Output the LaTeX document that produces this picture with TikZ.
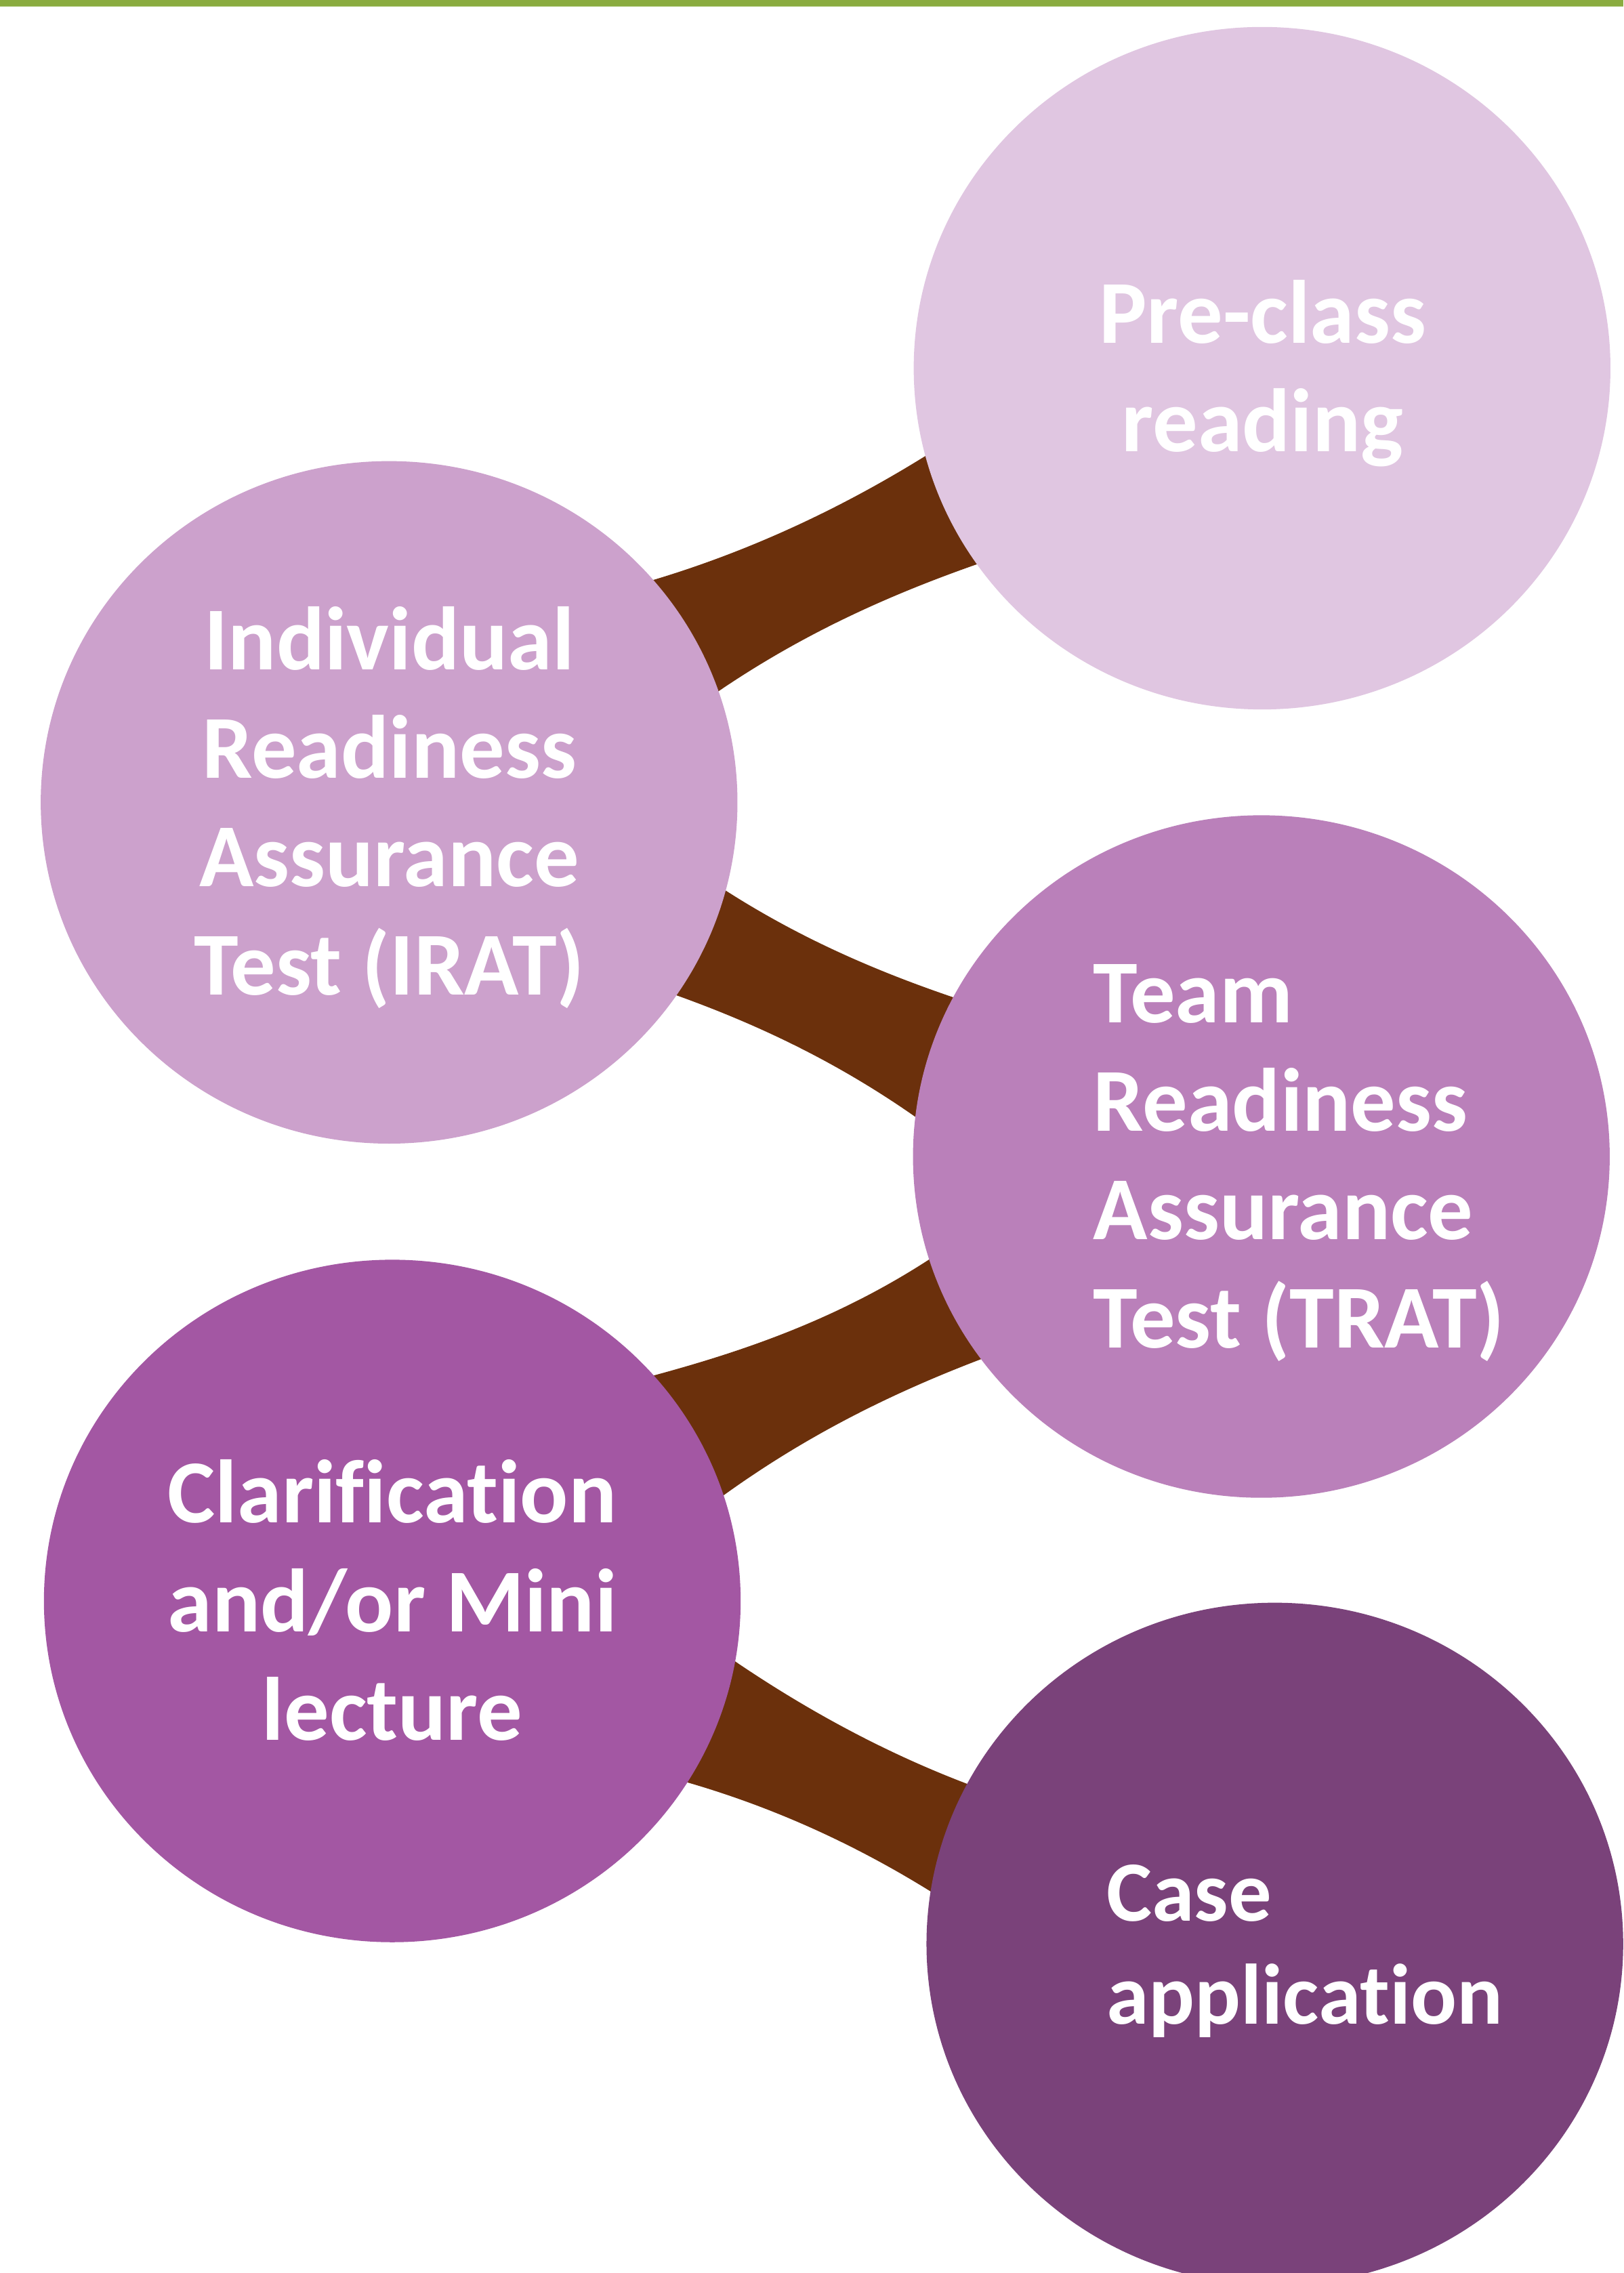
\documentclass[tikz,border=0pt]{standalone}
\usepackage{fontspec}
\setmainfont{Carlito}[Ligatures={NoCommon,NoRare,NoContextual}]
\usetikzlibrary{shapes.geometric}
\definecolor{cPre}{HTML}{E0C6E1}
\definecolor{cIrat}{HTML}{CCA1CC}
\definecolor{cTrat}{HTML}{BA80BA}
\definecolor{cClar}{HTML}{A357A3}
\definecolor{cCase}{HTML}{7A427A}
\definecolor{cBrown}{HTML}{6B300C}
\definecolor{cGreen}{HTML}{8AAC40}
\definecolor{cGreenL}{HTML}{B4CC84}
\begin{document}
\begin{tikzpicture}[x=1pt,y=-1pt,
  bubble/.style={ellipse, minimum width=480.6pt, minimum height=470.8pt, inner sep=0pt, draw=none},
  band/.style={fill=cBrown, draw=none},
  lbl/.style={text=white, inner sep=0pt, font=\bfseries\fontsize{62}{74.8}\selectfont},
  lblsmall/.style={text=white, inner sep=0pt, font=\bfseries\fontsize{59.2}{71.4}\selectfont}
]
\useasboundingbox (0,0) rectangle (1120,1568);
\clip (0,0) rectangle (1120,1568);
\fill[white] (0,0) rectangle (1120,1568);

% circle centres (the bubbles are drawn later, on top of the bands)
\path
  (870.6,254.0) coordinate (pPre)
  (268.4,553.5) coordinate (pIrat)
  (870.1,797.8) coordinate (pTrat)
  (270.6,1104.4) coordinate (pClar)
  (879.4,1341.0) coordinate (pCase);

% connectors
\fill[band] (pIrat) -- (436.9,404.2) -- (450.9,400.0)
  .. controls (513.2,381.3) and (575.5,353.5) .. (637.8,314.9) -- (648.0,308.6)
  -- (pPre) -- (685.3,385.2) -- (674.0,389.2)
  .. controls (614.7,410.0) and (555.3,436.3) .. (496.0,476.6) -- (486.0,483.6) -- cycle;
\fill[band] (pIrat) -- (488.7,606.7) -- (500.7,614.4)
  .. controls (553.0,647.9) and (605.3,670.2) .. (657.6,688.0) -- (670.6,692.4)
  -- (pTrat) -- (641.5,777.5) -- (631.5,770.5)
  .. controls (576.7,732.1) and (522.0,706.5) .. (467.2,686.8) -- (454.2,682.1) -- cycle;
\fill[band] (pClar) -- (435.9,952.9) -- (450.4,949.0)
  .. controls (514.0,931.8) and (577.7,909.9) .. (641.3,868.6) -- (653.9,860.4)
  -- (pTrat) -- (689.5,932.8) -- (677.5,937.3)
  .. controls (618.1,959.9) and (558.7,988.6) .. (499.3,1031.4) -- (489.3,1038.6) -- cycle;
\fill[band] (pClar) -- (497.0,1139.2) -- (507.0,1146.0)
  .. controls (560.3,1182.2) and (613.7,1210.2) .. (667.0,1230.5) -- (680.0,1235.5)
  -- (pCase) -- (652.5,1311.3) -- (642.0,1304.8)
  .. controls (586.1,1270.1) and (530.2,1245.8) .. (474.3,1229.6) -- (460.8,1225.7) -- cycle;

% bubbles
\node[bubble, fill=cPre]  (pre)  at (pPre)  {};
\node[bubble, fill=cIrat] (irat) at (pIrat) {};
\node[bubble, fill=cTrat] (trat) at (pTrat) {};
\node[bubble, fill=cClar] (clar) at (pClar) {};
\node[bubble, fill=cCase] (case) at (pCase) {};

% labels
\node[lbl, anchor=base] (tPre) at (871.0,236.7)
  {\begin{tabular}[t]{@{}c@{}}Pre-class\\reading\end{tabular}};
\node[lbl, anchor=base] (tIrat) at (268.5,462.0)
  {\begin{tabular}[t]{@{}c@{}}Individual\\Readiness\\Assurance\\Test (IRAT)\end{tabular}};
\node[lbl, anchor=base west] (tTrat) at (754.0,705.5)
  {\begin{tabular}[t]{@{}l@{}}Team\\Readiness\\Assurance\\Test (TRAT)\end{tabular}};
\node[lbl, anchor=base] (tClar) at (270.6,1050.6)
  {\begin{tabular}[t]{@{}c@{}}Clarification\\and/or Mini\\lecture\end{tabular}};
\node[lblsmall, anchor=base west] (tCase) at (763.0,1325.0)
  {\begin{tabular}[t]{@{}l@{}}Case\\application\end{tabular}};

% top rule
\fill[cGreen] (0,0) rectangle (1120,4.35);
\fill[cGreenL] (0,4.35) rectangle (1120,4.85);
\end{tikzpicture}
\end{document}
